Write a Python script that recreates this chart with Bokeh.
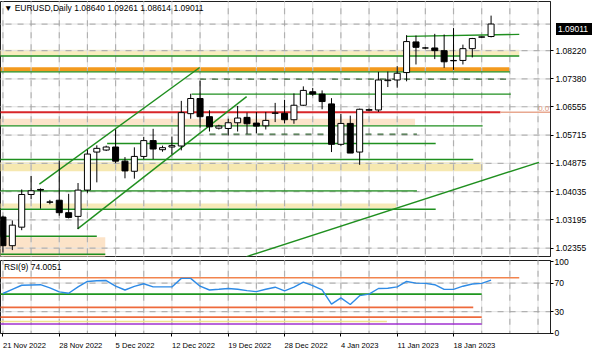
from bokeh.plotting import figure
from bokeh.models import ColumnDataSource, Range1d, FixedTicker, PrintfTickFormatter, Label, Div
from bokeh.layouts import column
from bokeh.embed import file_html
from bokeh.resources import INLINE

# ---------------- data ----------------
opens = [1.0328, 1.0243, 1.0298, 1.0395, 1.0410, 1.0373, 1.0378, 1.0341, 1.0330, 1.0408,
         1.0521, 1.0527, 1.0536, 1.0494, 1.0464, 1.0508, 1.0555, 1.0528, 1.0536, 1.0539,
         1.0635, 1.0680, 1.0626, 1.0592, 1.0591, 1.0608, 1.0624, 1.0607, 1.0599, 1.0636,
         1.0636, 1.0617, 1.0660, 1.0700, 1.0693, 1.0664, 1.0544, 1.0606, 1.0521, 1.0645,
         1.0646, 1.0733, 1.0735, 1.0757, 1.0848, 1.0830, 1.0830, 1.0822, 1.0792, 1.0793,
         1.0828, 1.0862, 1.08640]
highs = [1.0332, 1.0318, 1.0410, 1.0450, 1.0413, 1.0379, 1.0496, 1.0397, 1.0429, 1.0528,
         1.0541, 1.0540, 1.0588, 1.0506, 1.0535, 1.0566, 1.0590, 1.0540, 1.0567, 1.0673,
         1.0694, 1.0733, 1.0645, 1.0602, 1.0620, 1.0658, 1.0638, 1.0640, 1.0640, 1.0667,
         1.0676, 1.0695, 1.0716, 1.0711, 1.0704, 1.0681, 1.0634, 1.0629, 1.0650, 1.0650,
         1.0759, 1.0760, 1.0776, 1.0868, 1.0867, 1.0832, 1.0872, 1.0870, 1.0889, 1.0840,
         1.0860, 1.0864, 1.09261]
lows = [1.0223, 1.0230, 1.0289, 1.0381, 1.0353, 1.0366, 1.0332, 1.0324, 1.0293, 1.0400,
        1.0431, 1.0524, 1.0488, 1.0443, 1.0442, 1.0500, 1.0500, 1.0522, 1.0514, 1.0526,
        1.0620, 1.0593, 1.0582, 1.0588, 1.0570, 1.0582, 1.0575, 1.0577, 1.0588, 1.0610,
        1.0606, 1.0605, 1.0658, 1.0688, 1.0648, 1.0521, 1.0540, 1.0518, 1.0483, 1.0642,
        1.0640, 1.0714, 1.0712, 1.0731, 1.0781, 1.0828, 1.0797, 1.0771, 1.0765, 1.0781,
        1.0802, 1.0860, 1.08614]
closes = [1.0243, 1.0304, 1.0395, 1.0406, 1.0408, 1.0372, 1.0341, 1.0327, 1.0408, 1.0515,
          1.0532, 1.0536, 1.0494, 1.0465, 1.0508, 1.0555, 1.0530, 1.0534, 1.0540, 1.0638,
          1.0680, 1.0626, 1.0596, 1.0598, 1.0608, 1.0622, 1.0605, 1.0598, 1.0615, 1.0637,
          1.0617, 1.0660, 1.0704, 1.0693, 1.0671, 1.0544, 1.0606, 1.0518, 1.0648, 1.0647,
          1.0735, 1.0735, 1.0755, 1.0849, 1.0832, 1.0830, 1.0822, 1.0789, 1.0793, 1.0828,
          1.0858, 1.0863, 1.09011]
rsi_values = [55.4, 61.3, 66.9, 67.3, 67.7, 63.3, 57.7, 55.8, 64.6, 72.2,
              73.2, 73.5, 65.6, 60.3, 65.3, 69.0, 64.6, 64.6, 64.6, 76.5,
              76.5, 65.6, 60.3, 61.3, 62.4, 61.3, 59.4, 58.0, 61.3, 64.2,
              59.0, 64.2, 71.2, 66.4, 60.3, 40.5, 49.2, 40.0, 52.4, 54.5,
              62.4, 62.7, 64.6, 72.2, 69.9, 69.5, 67.7, 61.1, 61.1, 65.6,
              68.6, 69.5, 74.0051]

price_ticks = [1.02355, 1.03195, 1.04035, 1.04875, 1.05715, 1.06555, 1.07380, 1.08220]
rsi_ticks = [0, 30, 70, 100]
date_label_bars = [0, 6, 12, 18, 24, 30, 36, 42, 48]
date_labels = ["21 Nov 2022", "28 Nov 2022", "5 Dec 2022", "12 Dec 2022", "19 Dec 2022",
               "28 Dec 2022", "4 Jan 2023", "11 Jan 2023", "18 Jan 2023"]

# drawn objects (price levels, anchored by bar index)
zone_top = [1.08248, 1.07731, 1.06197, 1.04906, 1.03683, 1.02683]
zone_bottom = [1.08078, 1.07604, 1.06008, 1.04638, 1.03541, 1.02050]
zone_end = [55.0, 54.0, 43.9, 51.1, 41.9, 10.9]
zone_colors = ["#F8EDBE", "#F39A1E", "#FCE4CA", "#F6E8B0", "#F6EAB8", "#FCE3C8"]

green_levels = [1.08062, 1.07590, 1.06931, 1.05988, 1.05462, 1.04991, 1.04058, 1.03513, 1.02711, 1.02174]
green_start = [-1, -1, 20.1, -1, 11.1, -1, -1, -1, -1, -1]
green_end = [55.0, 54.0, 54.1, 51.1, 46.1, 50.1, 44.1, 46.1, 10.0, 10.9]

dashed_levels = [1.07378, 1.05745]
dashed_start = [21, 22]
dashed_end = [54.0, 44.1]

trend_x0 = [3.88, 7.95, 25.9, 43.0]
trend_y0 = [1.04256, 1.02928, 1.02100, 1.08646]
trend_x1 = [20.96, 25.96, 57.09, 55.0]
trend_y1 = [1.07722, 1.06855, 1.04906, 1.08703]

fib_level = 1.06395
fib_end = 53.0

rsi_levels = [77.5, 54.5, 36.0, 22.4, 16.2, 12.8]
rsi_level_end = [55.0, 51.0, 50.1, 51.0, 40.9, 51.0]
rsi_level_colors = ["#F2844E", "#1E961E", "#EE6A3C", "#EE6A3C", "#EEE38C", "#A030D0"]

FONT = "Liberation Sans"
FS = "8.5px"
GRID_SOFT = "#E2E2E2"
GRID_DOT = "#A4A4A4"

bars = list(range(len(closes)))
xr = Range1d(-0.26, 58.33)
yr = Range1d(1.02109, 1.09680)
FRAME_W = 550
FRAME_H = 255
TOP = 1
px_per_bar = FRAME_W / (xr.end - xr.start)
grid_bars = list(range(0, 58, 3))


def add_grid(fig, y_lines, y_lo, y_hi):
    fig.xgrid.grid_line_color = None
    fig.ygrid.grid_line_color = None
    nx, ny = len(grid_bars), len(y_lines)
    gx = ColumnDataSource(dict(x=grid_bars, lo=[y_lo] * nx, hi=[y_hi] * nx))
    gy = ColumnDataSource(dict(y=y_lines, lo=[-1] * ny, hi=[60] * ny))
    # soft solid base, with a dotted overlay on top of it
    fig.segment(x0="x", x1="x", y0="lo", y1="hi", line_color=GRID_SOFT, line_width=1, source=gx)
    fig.segment(x0="lo", x1="hi", y0="y", y1="y", line_color=GRID_SOFT, line_width=1, source=gy)
    fig.segment(x0="x", x1="x", y0="lo", y1="hi", line_color=GRID_DOT, line_width=1.2,
                line_dash="dashed", line_dash_offset=0, source=gx, line_alpha=0.8)
    fig.segment(x0="lo", x1="hi", y0="y", y1="y", line_color=GRID_DOT, line_width=1.2,
                line_dash="dashed", source=gy, line_alpha=0.8)


# ---------------- main chart ----------------
p = figure(frame_width=FRAME_W, frame_height=FRAME_H, x_range=xr, y_range=yr,
           y_axis_location="right", toolbar_location=None, output_backend="svg",
           min_border_left=0, min_border_right=0, min_border_top=TOP, min_border_bottom=2,
           outline_line_color="#202020", outline_line_width=1, background_fill_color="white")
p.xaxis.visible = False
p.yaxis.ticker = FixedTicker(ticks=price_ticks)
p.yaxis.formatter = PrintfTickFormatter(format="%.5f")
ax = p.yaxis[0]
ax.major_label_text_font = FONT
ax.major_label_text_font_size = FS
ax.major_label_text_color = "black"
ax.major_tick_in = 0
ax.major_tick_out = 3
ax.minor_tick_out = 0
ax.minor_tick_in = 0
ax.major_label_standoff = 2
ax.axis_line_color = "#202020"

zsrc = ColumnDataSource(dict(left=[-1] * len(zone_top), right=zone_end, top=zone_top,
                             bottom=zone_bottom, color=zone_colors))
p.quad(left="left", right="right", top="top", bottom="bottom", fill_color="color",
       line_color=None, source=zsrc)
add_grid(p, price_ticks + [closes[-1]], yr.start - 0.01, yr.end + 0.01)

gsrc = ColumnDataSource(dict(x0=green_start, x1=green_end, y=green_levels))
p.segment(x0="x0", x1="x1", y0="y", y1="y", line_color="#1F8F1F", line_width=1.4, source=gsrc)
dsrc = ColumnDataSource(dict(x0=dashed_start, x1=dashed_end, y=dashed_levels))
p.segment(x0="x0", x1="x1", y0="y", y1="y", line_color="#3A6A3A", line_width=1.2,
          line_dash="dashed", source=dsrc)

p.segment(x0=[-1], x1=[fib_end], y0=[fib_level], y1=[fib_level], line_color="#D8262A", line_width=2)
p.segment(x0=[fib_end], x1=[60], y0=[fib_level], y1=[fib_level], line_color="#E8A890", line_width=1.5)

tsrc = ColumnDataSource(dict(x0=trend_x0, y0=trend_y0, x1=trend_x1, y1=trend_y1))
p.segment(x0="x0", y0="y0", x1="x1", y1="y1", line_color="#1F8F1F", line_width=1.4, source=tsrc)

# candles
up_x, up_t, up_b, dn_x, dn_t, dn_b = [], [], [], [], [], []
for i, (o, c) in enumerate(zip(opens, closes)):
    if c >= o:
        up_x.append(i); up_t.append(c); up_b.append(o)
    else:
        dn_x.append(i); dn_t.append(o); dn_b.append(c)
p.segment(x0=bars, x1=bars, y0=lows, y1=highs, line_color="black", line_width=1)
p.vbar(x=up_x, top=up_t, bottom=up_b, width=0.64, fill_color="white", line_color="black", line_width=1)
p.vbar(x=dn_x, top=dn_t, bottom=dn_b, width=0.64, fill_color="black", line_color="black", line_width=1)

header = "\u25BC EURUSD,Daily  %.5f %.5f %.5f %.5f" % (opens[-1], highs[-1], lows[-1], closes[-1])
p.add_layout(Label(x=0.1, y=1.0948, text=header, text_font=FONT, text_font_size=FS,
                   text_baseline="middle", text_color="black"))
p.add_layout(Label(x=58.2, y=fib_level, y_offset=1, text="0.0", text_font=FONT,
                   text_font_size="8px", text_baseline="bottom", text_align="right",
                   text_color="#E0987A"))

# ---------------- RSI panel ----------------
DFS = 7.6
char_w = {" ": 0.278, "N": 0.722, "D": 0.722, "J": 0.5, "o": 0.556, "v": 0.5, "e": 0.556,
          "c": 0.5, "a": 0.556, "n": 0.556}
label_centers = []
for b, s in zip(date_label_bars, date_labels):
    w = sum(char_w.get(ch, 0.556) for ch in s) * DFS
    label_centers.append(b + (w / 2.0) / px_per_bar)

rr = Range1d(-0.5, 101.5)
r = figure(frame_width=FRAME_W, frame_height=73, x_range=xr, y_range=rr,
           y_axis_location="right", toolbar_location=None, output_backend="svg",
           min_border_left=0, min_border_right=0, min_border_top=2, min_border_bottom=0,
           outline_line_color="#202020", outline_line_width=1, background_fill_color="white")
r.yaxis.ticker = FixedTicker(ticks=rsi_ticks)
r.xaxis.ticker = FixedTicker(ticks=label_centers, minor_ticks=date_label_bars)
r.xaxis.major_label_overrides = {c: s for c, s in zip(label_centers, date_labels)}
for a in [r.yaxis[0], r.xaxis[0]]:
    a.major_label_text_font = FONT
    a.major_label_text_font_size = FS
    a.major_label_text_color = "black"
    a.major_tick_in = 0
    a.major_tick_out = 3
    a.minor_tick_out = 0
    a.minor_tick_in = 0
    a.major_label_standoff = 1
    a.axis_line_color = "#202020"
r.xaxis.major_label_text_font_size = "%.1fpx" % DFS
r.xaxis.major_tick_out = 0
r.xaxis.minor_tick_out = 3
r.xaxis.major_label_standoff = 4
add_grid(r, [30, 70], -5, 105)

rl = ColumnDataSource(dict(x0=[-1] * len(rsi_levels), x1=rsi_level_end, y=rsi_levels, color=rsi_level_colors))
r.segment(x0="x0", x1="x1", y0="y", y1="y", line_color="color", line_width=1.6, source=rl)
r.line(x=bars, y=rsi_values, line_color="#2E8BE6", line_width=1.4)
r.add_layout(Label(x=0.1, y=92, text="RSI(9) %.4f" % rsi_values[-1], text_font=FONT,
                   text_font_size=FS, text_baseline="middle", text_color="black"))

# current price tag on the price scale (black box, white text)
tag_center = TOP + (yr.end - closes[-1]) / (yr.end - yr.start) * FRAME_H
tag = Div(text="%.5f" % closes[-1], width=36, height=12,
          styles={"position": "absolute", "left": "%dpx" % (FRAME_W + 1),
                  "top": "%dpx" % round(tag_center - 6),
                  "background-color": "black", "color": "white",
                  "font-family": FONT, "font-size": FS, "line-height": "12px",
                  "padding-left": "2px", "z-index": "10", "overflow": "hidden"})

layout = column(p, r, tag, spacing=0)
open("out.html", "w").write(file_html(layout, INLINE))
